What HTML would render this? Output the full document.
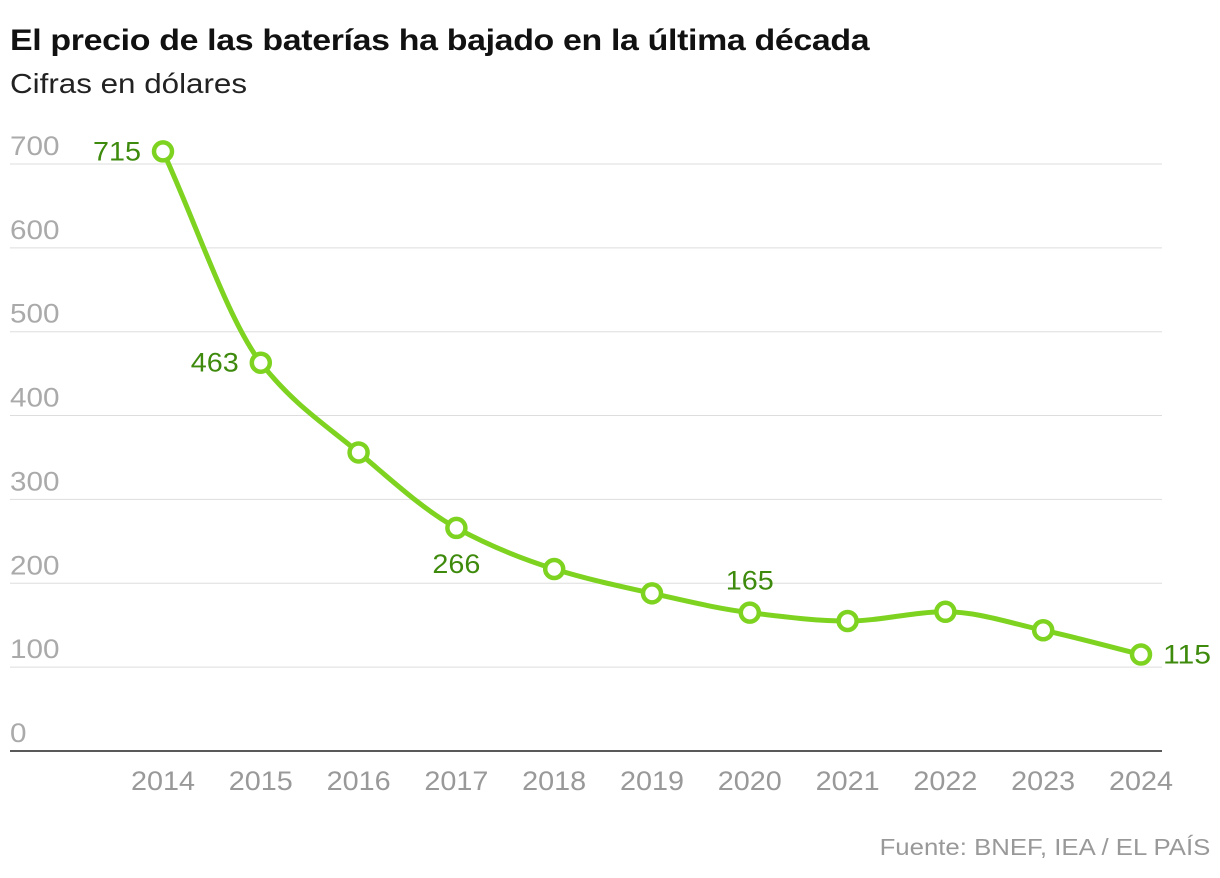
<!DOCTYPE html>
<html><head><meta charset="utf-8">
<style>
body{margin:0;background:#fff;width:1220px;height:878px;overflow:hidden;font-family:"Liberation Sans",sans-serif}
#title{position:absolute;left:10px;top:24px;font-size:30px;font-weight:bold;color:#111;letter-spacing:-0.3px;transform:scaleX(1.13);transform-origin:left top;white-space:nowrap}
#sub{position:absolute;left:10px;top:68px;font-size:28px;color:#222;transform:scaleX(1.12);transform-origin:left top}
#src{position:absolute;right:10px;top:834px;font-size:23px;color:#999;transform:scaleX(1.12);transform-origin:right top;white-space:nowrap}
svg{position:absolute;left:0;top:0}
</style></head><body>
<div id="title">El precio de las baterías ha bajado en la última década</div>
<div id="sub">Cifras en dólares</div>
<svg id="chart" width="1220" height="878"></svg>
<div id="src">Fuente: BNEF, IEA / EL PAÍS</div>
<script>
const years=[2014,2015,2016,2017,2018,2019,2020,2021,2022,2023,2024];
const prices=[715,463,356,266,217,188,165,155,166,144,115];
const yTicks=[0,100,200,300,400,500,600,700];
const labeled={2014:'left',2015:'left',2017:'below',2020:'above',2024:'right'};
const NS='http://www.w3.org/2000/svg';
const svg=document.getElementById('chart');
const x=i=>163+(1141-163)*(i)/(years.length-1);
const y=v=>751-v*0.8386;
function mk(t,a,p){const e=document.createElementNS(NS,t);for(const k in a)e.setAttribute(k,a[k]);(p||svg).appendChild(e);return e;}
yTicks.forEach(t=>{
 const g=mk('g',{});
 
 
 mk('line',{x1:10,x2:1162,y1:y(t),y2:y(t),stroke:t==0?'#222':'#ddd','stroke-width':t==0?1.5:1},g);
 const tx=mk('text',{x:10,y:y(t)-9,'font-size':27,fill:'#aaa',textLength:String(t).length*16.5,lengthAdjust:'spacingAndGlyphs'},g);tx.textContent=t;
 
 
});
years.forEach((yr,i)=>{
 const tx=mk('text',{x:x(i),y:790,'font-size':27,fill:'#999','text-anchor':'middle',textLength:64,lengthAdjust:'spacingAndGlyphs'});tx.textContent=yr;
 
 
});
const px=years.map((_,i)=>x(i)),py=prices.map(y);
const n=px.length,d=[],m=[];
for(let i=0;i<n-1;i++)d.push((py[i+1]-py[i])/(px[i+1]-px[i]));
m[0]=d[0];m[n-1]=d[n-2];
for(let i=1;i<n-1;i++)m[i]=(d[i-1]*d[i]<=0)?0:(2*d[i-1]*d[i])/(d[i-1]+d[i]);
let path='M'+px[0]+','+py[0];
for(let i=0;i<n-1;i++){const h=(px[i+1]-px[i])/3;path+=` C${px[i]+h},${py[i]+m[i]*h} ${px[i+1]-h},${py[i+1]-m[i+1]*h} ${px[i+1]},${py[i+1]}`;}
const line=mk('path',{d:path,fill:'none',stroke:'#7ed321','stroke-width':5});


years.forEach((yr,i)=>{
 const c=mk('circle',{cx:px[i],cy:py[i],r:9,fill:'#fff',stroke:'#7ed321','stroke-width':4.5});
 
 
 const pos=labeled[yr];if(!pos)return;
 let ax=px[i],ay=py[i]+9,anc='middle';
 if(pos=='left'){ax=px[i]-22;anc='end';}
 if(pos=='right'){ax=px[i]+22;anc='start';}
 if(pos=='below'){ay=py[i]+45;}
 if(pos=='above'){ay=py[i]-23;}
 const t=mk('text',{x:ax,y:ay,'font-size':27,fill:'#3d8a0c','text-anchor':anc,textLength:String(prices[i]).length*16,lengthAdjust:'spacingAndGlyphs'});t.textContent=prices[i];
 
 
});
</script>
</body></html>
